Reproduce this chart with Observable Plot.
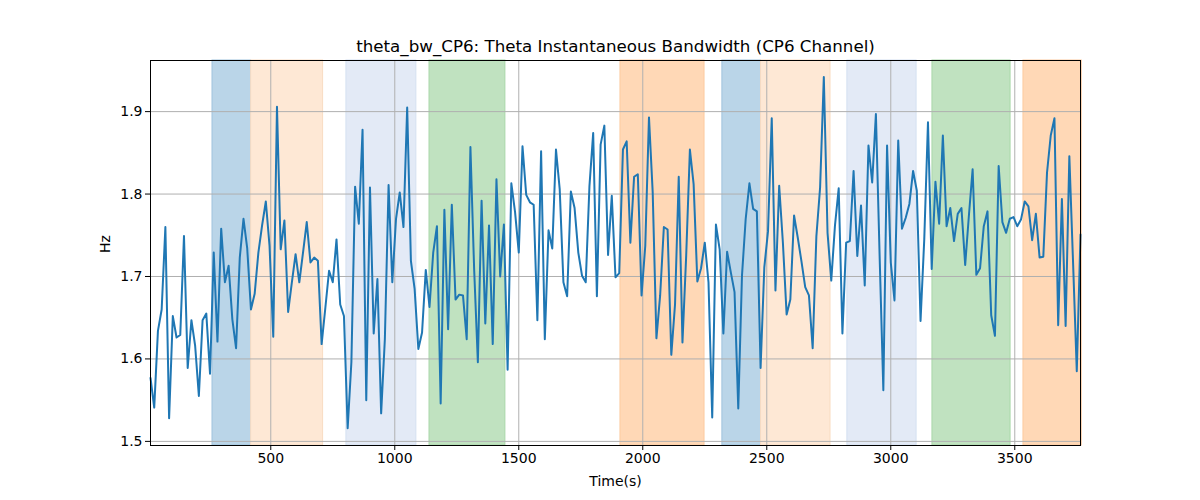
<!DOCTYPE html>
<html><head><meta charset="utf-8">
<script src="https://cdn.jsdelivr.net/npm/d3@7"></script>
<script src="https://cdn.jsdelivr.net/npm/@observablehq/plot@0.6"></script>
<style>body{margin:0;background:#fff;} #chart svg{font-family:"DejaVu Sans",sans-serif;}</style>
</head><body><div id="chart"></div>
<script>
// Theta instantaneous bandwidth (Hz), sampled every 15 s starting at t = 15 s
const tStart = 15;
const tStep = 15;
const values = [
1.577,1.541,1.634,1.660,1.760,1.528,1.652,1.626,1.629,1.749,1.589,1.647,1.616,1.555,1.647,1.655,1.582,1.729,1.621,1.758,1.693,1.713,1.648,1.613,1.723,1.770,1.734,1.660,1.679,1.729,1.762,1.791,
1.737,1.627,1.906,1.733,1.768,1.657,1.693,1.727,1.693,1.729,1.766,1.717,1.723,1.719,1.618,1.662,1.707,1.693,1.745,1.666,1.652,1.516,1.596,1.809,1.764,1.878,1.550,1.808,1.631,1.697,1.534,1.624,1.811,
1.693,1.770,1.802,1.760,1.905,1.719,1.685,1.612,1.632,1.708,1.663,1.729,1.761,1.546,1.781,1.636,1.787,1.672,1.678,1.677,1.624,1.857,1.709,1.596,1.792,1.643,1.762,1.618,1.818,1.700,1.763,1.587,
1.813,1.778,1.729,1.858,1.799,1.790,1.787,1.647,1.852,1.624,1.756,1.734,1.854,1.806,1.693,1.676,1.803,1.783,1.729,1.701,1.693,1.810,1.874,1.676,1.860,1.883,1.726,1.798,1.699,1.704,1.854,1.864,
1.741,1.821,1.824,1.677,1.737,1.893,1.802,1.625,1.677,1.760,1.757,1.605,1.666,1.821,1.620,1.725,1.854,1.812,1.694,1.710,1.741,1.693,1.529,1.763,1.733,1.631,1.730,1.705,1.681,1.540,1.701,1.770,1.813,
1.782,1.779,1.589,1.711,1.755,1.892,1.683,1.810,1.741,1.654,1.672,1.774,1.747,1.718,1.687,1.677,1.613,1.749,1.808,1.942,1.753,1.695,1.762,1.807,1.631,1.741,1.743,1.828,1.725,1.786,1.689,1.859,
1.814,1.897,1.725,1.562,1.859,1.717,1.671,1.865,1.758,1.771,1.788,1.828,1.804,1.646,1.745,1.887,1.709,1.815,1.764,1.871,1.761,1.783,1.743,1.776,1.783,1.714,1.774,1.830,1.702,1.710,1.761,1.779,
1.653,1.628,1.834,1.766,1.753,1.770,1.772,1.761,1.769,1.791,1.785,1.744,1.776,1.723,1.724,1.826,1.871,1.892,1.641,1.794,1.640,1.846,1.717,1.585,1.751
];

// Shaded intervals (seconds) and their category
const bandStart = [265, 421, 805, 1140, 1910, 2321, 2477, 2825, 3168, 3535];
const bandEnd   = [421, 711, 1087, 1446, 2249, 2477, 2757, 3104, 3483, 3770];
const bandKind  = ["A", "B", "C", "D", "E", "A", "B", "C", "D", "E"];

const xTicks = [500, 1000, 1500, 2000, 2500, 3000, 3500];
const yTicks = [1.5, 1.6, 1.7, 1.8, 1.9];

const kindFill = {A: "#bad5e8", B: "#fee8d5", C: "#e3eaf6", D: "#c0e2c0", E: "#ffd8b6"};
const kindEdge = {A: "#9fc3dd", B: "#f9dcc2", C: "#d4e0f1", D: "#a9d7a9", E: "#fccaa0"};

const series = values.map((v, i) => ({t: tStart + i * tStep, v}));
const bands = bandStart.map((s, i) => ({x1: s, x2: bandEnd[i], kind: bandKind[i]}));

const chart = Plot.plot({
  width: 1200,
  height: 500,
  marginLeft: 150,
  marginRight: 120,
  marginTop: 60,
  marginBottom: 55,
  style: {fontFamily: "DejaVu Sans, sans-serif", fontSize: "14px", background: "#fff"},
  x: {domain: [15, 3765]},
  y: {domain: [1.495, 1.962]},
  marks: [
    Plot.rect(bands, {x1: "x1", x2: "x2", fill: d => kindFill[d.kind], stroke: d => kindEdge[d.kind], strokeWidth: 1}),
    Plot.gridX(xTicks, {stroke: "#b0b0b0", strokeOpacity: 1, strokeWidth: 1}),
    Plot.gridY(yTicks, {stroke: "#b0b0b0", strokeOpacity: 1, strokeWidth: 1}),
    Plot.line(series, {x: "t", y: "v", stroke: "#1f77b4", strokeWidth: 2}),
    Plot.frame({stroke: "black", strokeWidth: 1}),
    Plot.axisX(xTicks, {tickSize: 5, tickPadding: 3, fontSize: 14, label: null, tickFormat: d => String(d)}),
    Plot.axisY(yTicks, {tickSize: 5, tickPadding: 3, fontSize: 14, label: null, tickFormat: d3.format(".1f")}),
    Plot.text(["theta_bw_CP6: Theta Instantaneous Bandwidth (CP6 Channel)"], {frameAnchor: "top", lineAnchor: "middle", dy: -14, fontSize: 16.7, fill: "black"}),
    Plot.text(["Time(s)"], {frameAnchor: "bottom", lineAnchor: "middle", dy: 36, fontSize: 14, fill: "black"}),
    Plot.text(["Hz"], {frameAnchor: "left", dx: -45, rotate: -90, fontSize: 14, fill: "black"})
  ]
});
document.getElementById("chart").appendChild(chart);
</script>
</body></html>
